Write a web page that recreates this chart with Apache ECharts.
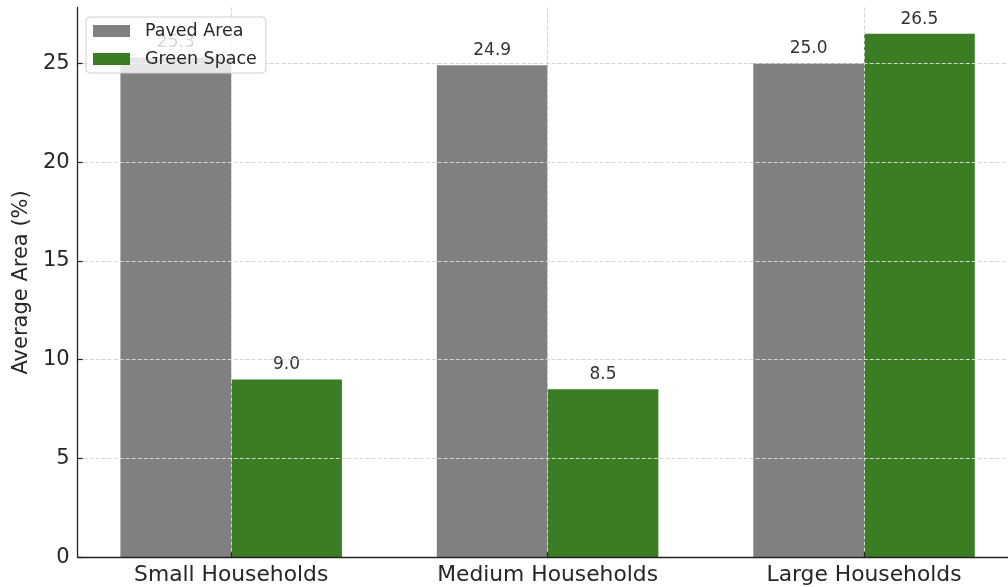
<!DOCTYPE html>
<html>
<head>
<meta charset="utf-8">
<script src="https://cdn.jsdelivr.net/npm/echarts@6/dist/echarts.min.js"></script>
<style>
html,body{margin:0;padding:0;background:#fff;}
#chart{width:1008px;height:587px;}
</style>
</head>
<body>
<div id="chart"></div>
<script>
const categories = ['Small Households', 'Medium Households', 'Large Households'];
const pavedArea = [25.3, 24.9, 25.0];
const greenSpace = [9.0, 8.5, 26.5];
const yTicks = [0, 5, 10, 15, 20, 25];
const seriesNames = ['Paved Area', 'Green Space'];

const FONT = 'DejaVu Sans';
const catIdx = categories.map((c, i) => i);
const toPairs = arr => arr.map((v, i) => [i, v]);

const gridLine = { show: true, lineStyle: { color: '#d4d4d4', width: 1, type: [4, 2] } };

const chart = echarts.init(document.getElementById('chart'), null, { renderer: 'canvas' });
chart.setOption({
  animation: false,
  backgroundColor: '#fff',
  textStyle: { fontFamily: FONT },
  grid: { left: 77.7, right: 0, top: 7.5, bottom: 29.7, containLabel: false },
  legend: {
    data: seriesNames,
    orient: 'vertical',
    left: 86,
    top: 17,
    padding: [5, 9, 5, 7],
    itemWidth: 37,
    itemHeight: 12,
    itemGap: 10,
    icon: 'rect',
    backgroundColor: 'rgba(255,255,255,0.8)',
    borderColor: '#d0d0d0',
    borderWidth: 1,
    borderRadius: 4,
    z: 10,
    textStyle: { fontFamily: FONT, fontSize: 17.5, color: '#262626', padding: [0, 0, 0, 10] }
  },
  xAxis: {
    type: 'value',
    min: -0.485,
    max: 2.455,
    z: 3,
    axisLine: { show: true, onZero: false, lineStyle: { color: '#222', width: 1.3 } },
    axisTick: { show: true, inside: true, length: 5, customValues: catIdx, lineStyle: { color: '#222', width: 1.2 } },
    axisLabel: {
      customValues: catIdx,
      formatter: v => categories[Math.round(v)] || '',
      fontFamily: FONT, fontSize: 21.8, color: '#262626', margin: 7
    },
    splitLine: gridLine
  },
  yAxis: {
    type: 'value',
    min: 0,
    max: 27.825,
    z: 3,
    name: 'Average Area (%)',
    nameLocation: 'middle',
    nameGap: 44,
    nameTextStyle: { fontFamily: FONT, fontSize: 21, color: '#262626' },
    axisLine: { show: true, onZero: false, lineStyle: { color: '#222', width: 1.3 } },
    axisTick: { show: true, inside: true, length: 5, customValues: yTicks, lineStyle: { color: '#222', width: 1.2 } },
    axisLabel: { customValues: yTicks, fontFamily: FONT, fontSize: 21, color: '#262626', margin: 8 },
    splitLine: gridLine
  },
  series: [
    {
      name: seriesNames[0],
      type: 'bar',
      data: toPairs(pavedArea),
      barWidth: '35%',
      barGap: '0%',
      itemStyle: { color: '#808080' },
      label: { show: true, position: 'top', distance: 6, fontFamily: FONT, fontSize: 17, color: '#333',
               formatter: p => p.value[1].toFixed(1) }
    },
    {
      name: seriesNames[1],
      type: 'bar',
      data: toPairs(greenSpace),
      barWidth: '35%',
      barGap: '0%',
      itemStyle: { color: '#3a7d23' },
      label: { show: true, position: 'top', distance: 6, fontFamily: FONT, fontSize: 17, color: '#333',
               formatter: p => p.value[1].toFixed(1) }
    }
  ]
});
</script>
</body>
</html>
